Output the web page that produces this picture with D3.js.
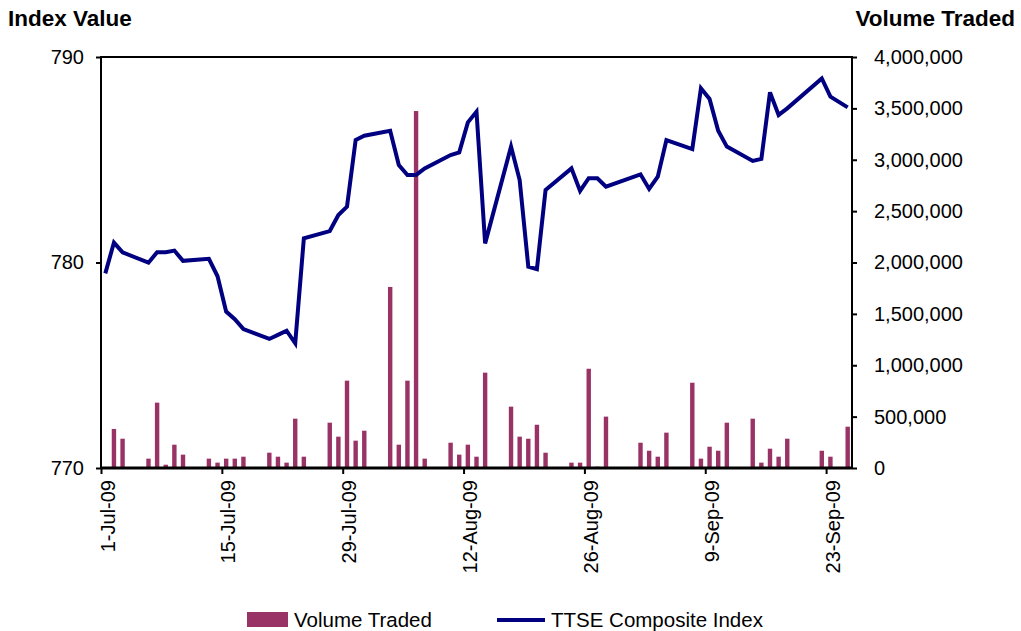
<!DOCTYPE html>
<head>
    <meta charset='utf-8'>
    <style>
        body {
            margin: 0;
            font-family: Arial, 'Liberation Sans', sans-serif;
            background: #fff;
        }
        .tick text {
            font-family: Arial, 'Liberation Sans', sans-serif;
            font-size: 20px;
            fill: #000;
        }
        .domain { display: none; }
        .tick line { stroke: #000; stroke-width: 2px; }
    </style>
</head>

<body>
<div id='vis'></div>
<script src='https://cdn.jsdelivr.net/npm/d3@7/dist/d3.min.js'></script>
<script>
  const margin = {top: 57, right: 169, bottom: 163, left: 101},
    width = 1021 - margin.left - margin.right,
    height = 631 - margin.top - margin.bottom

  // trading days, Jul-Sep 2009
  const dates = [
    '2009-07-01','2009-07-02','2009-07-03','2009-07-06','2009-07-07','2009-07-08','2009-07-09','2009-07-10',
    '2009-07-13','2009-07-14','2009-07-15','2009-07-16','2009-07-17','2009-07-20','2009-07-21','2009-07-22',
    '2009-07-23','2009-07-24','2009-07-27','2009-07-28','2009-07-29','2009-07-30','2009-07-31','2009-08-03',
    '2009-08-04','2009-08-05','2009-08-06','2009-08-07','2009-08-10','2009-08-11','2009-08-12','2009-08-13',
    '2009-08-14','2009-08-17','2009-08-18','2009-08-19','2009-08-20','2009-08-21','2009-08-24','2009-08-25',
    '2009-08-26','2009-08-27','2009-08-28','2009-09-01','2009-09-02','2009-09-03','2009-09-04','2009-09-07',
    '2009-09-08','2009-09-09','2009-09-10','2009-09-11','2009-09-14','2009-09-15','2009-09-16','2009-09-17',
    '2009-09-18','2009-09-22','2009-09-23','2009-09-25'
  ]

  const indexValues = [
    779.47, 780.97, 780.49, 779.99, 780.50, 780.50, 780.58, 780.08,
    780.18, 779.33, 777.61, 777.24, 776.76, 776.28, 776.48, 776.68,
    776.07, 781.18, 781.53, 782.31, 782.72, 785.96, 786.17, 786.41,
    784.74, 784.26, 784.26, 784.58, 785.23, 785.36, 786.82, 787.34,
    780.93, 785.64, 784.01, 779.80, 779.68, 783.53, 784.58, 783.48,
    784.10, 784.10, 783.69, 784.29, 783.58, 784.18, 785.96, 785.52,
    788.48, 787.96, 786.41, 785.64, 784.94, 785.04, 788.28, 787.18,
    787.50, 788.96, 788.07, 787.55
  ]

  const volumes = [
    0, 380000, 285000, 91000, 636000, 32000, 227000, 130000,
    91000, 52000, 91000, 91000, 110000, 149000, 110000, 52000,
    480000, 110000, 441000, 305000, 850000, 266000, 363000, 1762000,
    227000, 850000, 3474000, 91000, 246000, 130000, 227000, 110000,
    928000, 597000, 305000, 285000, 421000, 149000, 52000, 52000,
    966000, 13000, 500000, 246000, 168000, 110000, 344000, 830000,
    91000, 207000, 168000, 441000, 480000, 52000, 188000, 110000,
    285000, 168000, 110000, 402000
  ]

  const dateTicks = ['2009-07-01','2009-07-15','2009-07-29','2009-08-12','2009-08-26','2009-09-09','2009-09-23']
  const indexTicks = [770, 780, 790]
  const volumeTicks = [0, 500000, 1000000, 1500000, 2000000, 2500000, 3000000, 3500000, 4000000]

  const parse = d3.utcParse('%Y-%m-%d')
  const data = dates.map((d, i) => ({date: parse(d), index: indexValues[i], volume: volumes[i]}))

  const svg = d3.select('#vis')
    .append('svg')
    .attr('width', width + margin.left + margin.right)
    .attr('height', height + margin.top + margin.bottom)

  const plot = svg.append('g')
    .attr('transform', `translate(${margin.left}, ${margin.top})`)

  // date axis, one slot per calendar day
  const x = d3.scaleUtc()
    .domain([parse('2009-07-01'), parse('2009-09-26')])
    .range([0, width])
  const dayW = x(parse('2009-07-02')) - x(parse('2009-07-01'))
  const xc = d => x(d) + dayW / 2

  const yL = d3.scaleLinear().domain([770, 790]).range([height, 0])
  const yR = d3.scaleLinear().domain([0, 4000000]).range([height, 0])

  // bars
  plot.selectAll('.bar')
    .data(data.filter(d => d.volume > 0))
    .enter()
    .append('rect')
    .attr('class', 'bar')
    .attr('x', d => xc(d.date) - 2.2)
    .attr('width', 4.4)
    .attr('y', d => yR(d.volume))
    .attr('height', d => height - yR(d.volume))
    .attr('fill', '#993366')

  // index line
  const line = d3.line()
    .x(d => xc(d.date))
    .y(d => yL(d.index))

  plot.append('path')
    .datum(data)
    .attr('d', line)
    .attr('fill', 'none')
    .attr('stroke', '#000080')
    .attr('stroke-width', 4)
    .attr('stroke-linejoin', 'miter')

  // frame
  plot.append('rect')
    .attr('width', width)
    .attr('height', height)
    .attr('fill', 'none')
    .attr('stroke', '#000')
    .attr('stroke-width', 2)
  plot.append('line')
    .attr('x1', 0).attr('x2', width)
    .attr('y1', height).attr('y2', height)
    .attr('stroke', '#000').attr('stroke-width', 3)

  // axes
  const xAxis = plot.append('g')
    .attr('transform', `translate(0, ${height})`)
    .call(d3.axisBottom(x)
      .tickValues(dateTicks.map(parse))
      .tickSize(6)
      .tickFormat(d3.utcFormat('%-d-%b-%y')))
  xAxis.selectAll('text')
    .attr('transform', 'rotate(-90)')
    .attr('text-anchor', 'end')
    .attr('x', -12)
    .attr('y', 6)
    .attr('dy', '0.35em')

  plot.append('g')
    .call(d3.axisLeft(yL).tickValues(indexTicks).tickSize(5).tickPadding(12).tickFormat(d3.format('d')))

  plot.append('g')
    .attr('transform', `translate(${width}, 0)`)
    .call(d3.axisRight(yR).tickValues(volumeTicks).tickSize(5).tickPadding(17).tickFormat(d3.format(',')))

  // axis titles
  svg.append('text')
    .attr('x', 8).attr('y', 26)
    .style('font-size', '22.5px').style('font-weight', 'bold')
    .text('Index Value')
  svg.append('text')
    .attr('x', 1015).attr('y', 26)
    .attr('text-anchor', 'end')
    .style('font-size', '22.5px').style('font-weight', 'bold')
    .text('Volume Traded')

  // legend
  const legend = svg.append('g')
  legend.append('rect')
    .attr('x', 247).attr('y', 612).attr('width', 41).attr('height', 15)
    .attr('fill', '#993366')
  legend.append('text')
    .attr('x', 294).attr('y', 627)
    .style('font-size', '20.5px')
    .text('Volume Traded')
  legend.append('line')
    .attr('x1', 497).attr('x2', 545).attr('y1', 620).attr('y2', 620)
    .attr('stroke', '#000080').attr('stroke-width', 4)
  legend.append('text')
    .attr('x', 551).attr('y', 627)
    .style('font-size', '20.5px')
    .text('TTSE Composite Index')
</script>
</body>
